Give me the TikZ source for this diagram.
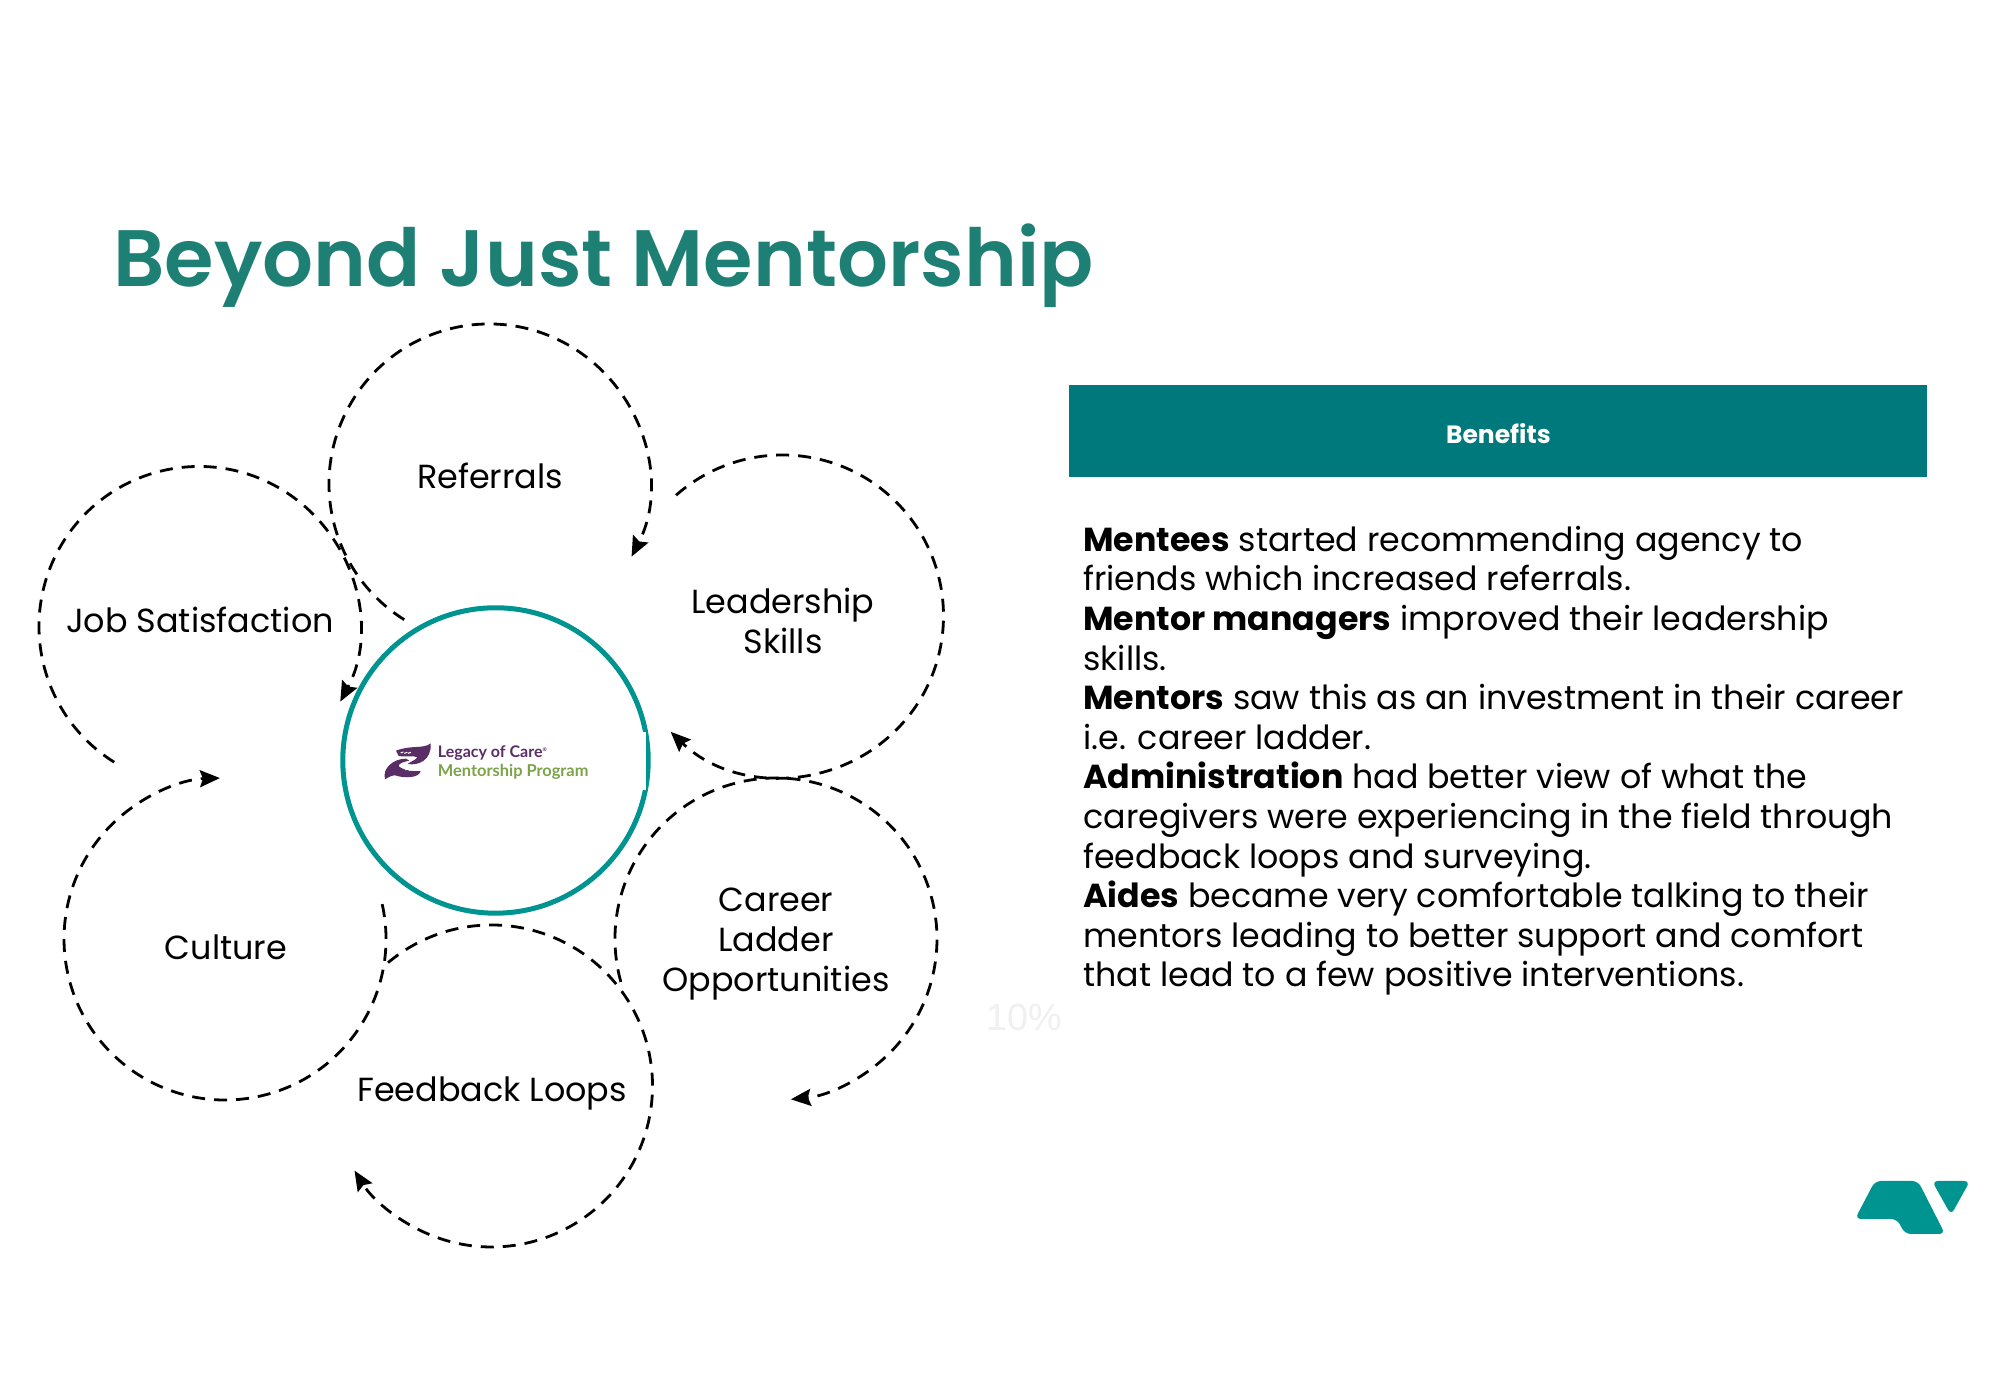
\documentclass[tikz,border=0pt]{standalone}
\usepackage{fontspec}
\setmainfont{Poppins}
\newfontfamily\titlefont{Poppins SemiBold}
\newfontfamily\logofont{Lato}
\newfontfamily\pctfont{Liberation Sans}
\usetikzlibrary{arrows.meta}
\definecolor{titleteal}{HTML}{1E8074}
\definecolor{barteal}{HTML}{00797C}
\definecolor{ringteal}{HTML}{009490}
\definecolor{logopurple}{HTML}{5A2D66}
\definecolor{logogreen}{HTML}{7DA34A}
\tikzset{
  looparc/.style={draw=black,line width=1.4pt,dash pattern=on 6.5pt off 4.5pt,-{Stealth[length=10pt,width=8.5pt,inset=1.5pt]}},
  looplabel/.style={font=\fontsize{16.7}{19.8}\selectfont,align=center,inner sep=0pt},
}
\begin{document}
\begin{tikzpicture}[x=0.5pt,y=0.5pt]
\useasboundingbox (0,0) rectangle (2000,1400);
\fill[white] (0,0) rectangle (2000,1400);
% title
\node[anchor=base west,inner sep=0pt,text=titleteal,font=\titlefont\fontsize{40}{41}\selectfont] (title) at (113,1400-287) {Beyond Just Mentorship};
% centres of loops
\coordinate (cref) at (489,1400-484);
\coordinate (cjob) at (199,1400-626.5);
\coordinate (ccul) at (225,1400-939);
\coordinate (cfee) at (491.5,1400-1086);
\coordinate (ccar) at (776,1400-939);
\coordinate (clea) at (782.5,1400-616);
% loops
\draw[looparc] ([shift={(238:160)}]cref) arc[start angle=238,end angle=-27,radius=160];
\draw[looparc] ([shift={(238:160)}]cjob) arc[start angle=238,end angle=-28,radius=160];
\draw[looparc] ([shift={(12.5:161)}]ccul) arc[start angle=12.5,end angle=-268.2,radius=161];
\draw[looparc] ([shift={(130:161)}]cfee) arc[start angle=130,end angle=-148.3,radius=161];
\draw[looparc] ([shift={(195.5:161)}]ccar) arc[start angle=195.5,end angle=-84.7,radius=161];
\draw[looparc] ([shift={(131.4:161)}]clea) arc[start angle=131.4,end angle=-134,radius=161];
% hub
\node[circle,draw=ringteal,line width=2.5pt,minimum size=152.7pt,inner sep=0pt] (hub) at (495.5,1400-760.5) {};
\fill[white] (640,1400-732) rectangle (646.4,1400-790);
% logo hands
\begin{scope}[shift={(340,800)},x=0.16667pt,y=-0.16667pt]
\fill[logopurple] (272,430) .. controls (250,448) and (215,434) .. (168,452)
  -- (176,468) .. controls (200,472) and (222,466) .. (232,472)
  .. controls (228,480) and (212,484) .. (203,492)
  .. controls (235,498) and (276,480) .. (272,430) -- cycle;
\fill[logopurple] (135,538) .. controls (126,505) and (160,476) .. (198,476)
  -- (208,482) .. controls (190,486) and (176,490) .. (176,498)
  .. controls (184,508) and (215,516) .. (242,513)
  .. controls (238,534) and (195,536) .. (165,526)
  .. controls (155,526) and (145,532) .. (135,538) -- cycle;
\draw[white,line width=0.5pt] (182,459)--(190,456) (193,460)--(202,457) (204,460)--(213,457);
\draw[white,line width=0.5pt] (196,510)--(204,507) (207,511)--(215,508) (218,512)--(226,509);
\end{scope}
\node[anchor=base west,inner sep=0pt,text=logopurple,font=\logofont\bfseries\fontsize{8.0}{8}\selectfont] (logoa) at (437.5,1400-758) {Legacy of Care\raisebox{3pt}{\fontsize{2.5}{2.5}\selectfont®}};
\node[anchor=base west,inner sep=0pt,text=logogreen,font=\logofont\bfseries\fontsize{8.2}{8}\selectfont] (logob) at (437.5,1400-777) {Mentorship Program};
% labels
\node[looplabel] (lref) at (490,1400-476) {Referrals};
\node[looplabel] (ljob) at (200,1400-620) {Job Satisfaction};
\node[looplabel] (llea) at (783,1400-621) {Leadership\\Skills};
\node[looplabel] (lcar) at (776,1400-944) {Career\\Ladder\\Opportunities};
\node[looplabel] (lcul) at (226,1400-947.5) {Culture};
\node[looplabel] (lfee) at (492,1400-1093) {Feedback Loops};
% ghost
\node[inner sep=0pt,text=black!6,font=\pctfont\fontsize{18.9}{19}\selectfont] (pct) at (1024,1400-1017) {10\%};
% benefits bar
\node[anchor=north west,fill=barteal,minimum width=429pt,minimum height=46pt,inner sep=0pt] (bar) at (1069,1400-385) {};
\node[text=white,inner sep=0pt,yshift=-1.2pt,font=\bfseries\fontsize{12.5}{12.5}\selectfont] (bart) at (bar.center) {Benefits};
\node[anchor=north west,inner sep=0pt,align=left,font=\fontsize{16.62}{19.8}\selectfont] (body) at (1083,1400-525.7) {%
\textbf{Mentees} started recommending agency to\\
friends which increased referrals.\\
\textbf{Mentor managers} improved their leadership\\
skills.\\
\textbf{Mentors} saw this as an investment in their career\\
i.e. career ladder.\\
\textbf{Administration} had better view of what the\\
caregivers were experiencing in the field through\\
feedback loops and surveying.\\
\textbf{Aides} became very comfortable talking to their\\
mentors leading to better support and comfort\\
that lead to a few positive interventions.};
% corner mark
\fill[ringteal,rounded corners=3pt] (1875,1400-1181) -- (1918,1400-1181) -- (1945,1400-1234) -- (1905,1400-1234) -- (1897,1400-1219) -- (1855,1400-1219) -- cycle;
\fill[ringteal,rounded corners=3pt] (1932,1400-1181) -- (1970,1400-1181) -- (1951,1400-1215) -- cycle;
\end{tikzpicture}
\end{document}
